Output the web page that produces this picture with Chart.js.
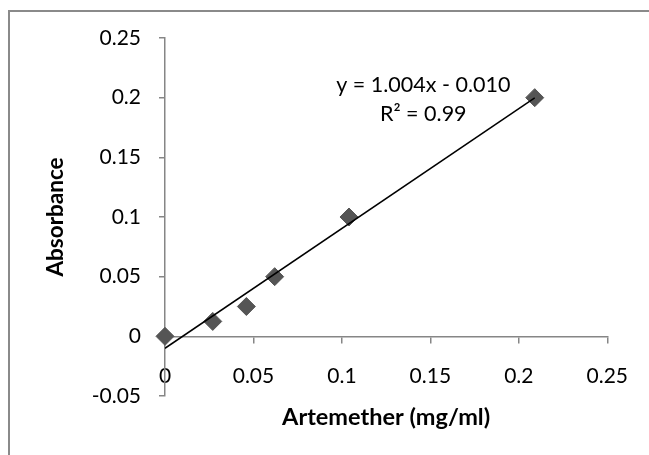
<!DOCTYPE html>
<html>
<head>
<meta charset="utf-8">
<script src="https://cdn.jsdelivr.net/npm/chart.js@4"></script>
<style>
  html, body { margin: 0; padding: 0; background: #fff; }
  #wrap { position: relative; width: 649px; height: 455px; overflow: hidden; }
  #frame {
    position: absolute; left: 8px; top: 10px; width: 700px; height: 500px;
    border-left: 2px solid #8a8a8a; border-top: 2px solid #8a8a8a;
  }
  #chart { position: absolute; left: 0; top: 0; }
</style>
</head>
<body>
<div id="wrap">
  <div id="frame"></div>
  <canvas id="chart" width="649" height="455"></canvas>
</div>
<script>
// Calibration points
const concentration = [0, 0.027, 0.046, 0.062, 0.104, 0.209];
const absorbance = [0, 0.0125, 0.025, 0.05, 0.1, 0.2];

// Linear trendline as printed on the chart
const slope = 1.004;
const intercept = -0.010;
const trendRange = [0, 0.209];

const xTicks = [0, 0.05, 0.1, 0.15, 0.2, 0.25];
const yTicks = [-0.05, 0, 0.05, 0.1, 0.15, 0.2, 0.25];

const equationText = ['y = 1.004x - 0.010', 'R² = 0.99'];

const axisGray = '#868686';
const fontFamily = 'Lato, "Open Sans", sans-serif';

Chart.defaults.font.family = fontFamily;
Chart.defaults.color = '#000';

const points = concentration.map((x, i) => ({ x: x, y: absorbance[i] }));
const trendPoints = trendRange.map((x) => ({ x: x, y: slope * x + intercept }));

function fmt(v) {
  return String(Math.round(v * 100) / 100);
}

// Draws the trendline equation, placed in data coordinates
const equationPlugin = {
  id: 'equation',
  afterDatasetsDraw(chart) {
    const { ctx, scales } = chart;
    const px = scales.x.getPixelForValue(0.146);
    ctx.save();
    ctx.font = '21.5px ' + fontFamily;
    ctx.fillStyle = '#000';
    ctx.textAlign = 'center';
    ctx.textBaseline = 'middle';
    ctx.fillText(equationText[0], px, scales.y.getPixelForValue(0.2105));
    ctx.fillText(equationText[1], px, scales.y.getPixelForValue(0.186));
    ctx.restore();
  },
};

new Chart(document.getElementById('chart'), {
  data: {
    datasets: [
      {
        type: 'line',
        label: 'Trendline',
        data: trendPoints,
        borderColor: '#000',
        borderWidth: 1.5,
        pointRadius: 0,
        fill: false,
        order: 0,
      },
      {
        type: 'scatter',
        label: 'Absorbance',
        data: points,
        pointStyle: 'rectRot',
        pointRadius: 9,
        backgroundColor: '#555555',
        borderColor: '#555555',
        borderWidth: 1,
        clip: false,
        order: 1,
      },
    ],
  },
  options: {
    responsive: false,
    animation: false,
    layout: { padding: { top: 38, right: 40, bottom: 59, left: 0 } },
    plugins: {
      legend: { display: false },
      tooltip: { enabled: false },
    },
    scales: {
      x: {
        type: 'linear',
        position: { y: 0 },
        min: 0,
        max: 0.25,
        afterBuildTicks: (scale) => {
          scale.ticks = xTicks.map((v) => ({ value: v }));
        },
        ticks: {
          padding: 21,
          font: { size: 21 },
          callback: (v) => fmt(v),
        },
        grid: {
          drawOnChartArea: false,
          drawTicks: true,
          tickLength: 6,
          color: axisGray,
          lineWidth: 1.5,
        },
        border: { display: true, color: axisGray, width: 1.5 },
        title: {
          display: true,
          text: 'Artemether (mg/ml)',
          font: { size: 23.5, weight: 'bold' },
          padding: { top: -6, bottom: 0 },
        },
      },
      y: {
        type: 'linear',
        position: 'left',
        min: -0.05,
        max: 0.25,
        afterBuildTicks: (scale) => {
          scale.ticks = yTicks.map((v) => ({ value: v }));
        },
        afterFit: (scale) => {
          scale.width = 165;
        },
        ticks: {
          padding: 18,
          font: { size: 21 },
          callback: (v) => fmt(v),
        },
        grid: {
          drawOnChartArea: false,
          drawTicks: true,
          tickLength: 6,
          color: axisGray,
          lineWidth: 1.5,
        },
        border: { display: true, color: axisGray, width: 1.5 },
        title: {
          display: true,
          text: 'Absorbance',
          font: { size: 22.5, weight: 'bold' },
          padding: { top: 42, bottom: 0 },
        },
      },
    },
  },
  plugins: [equationPlugin],
});
</script>
</body>
</html>
